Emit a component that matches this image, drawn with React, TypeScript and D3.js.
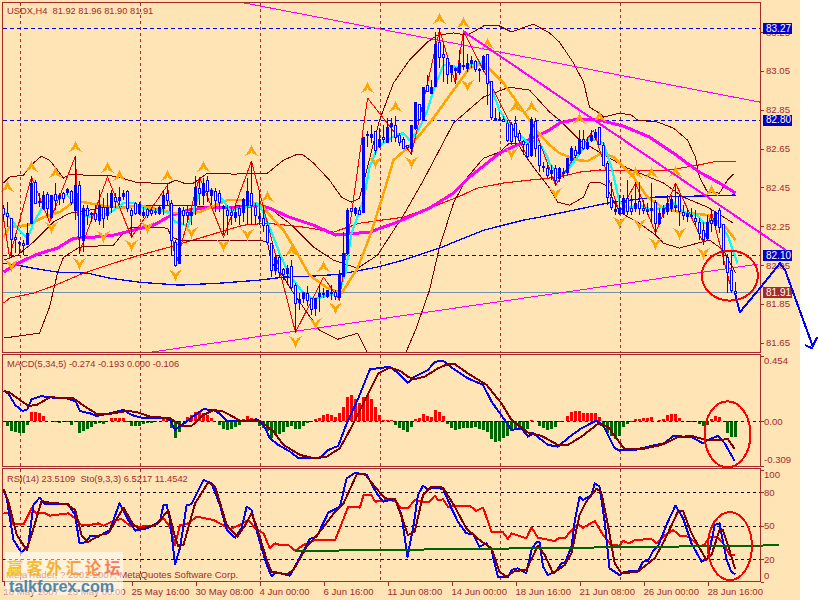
import { useEffect, useRef } from "react";
import * as d3 from "d3";

type Pt = [number, number];

// ---- candles, one value per H4 bar
const opens = [82.344,82.318,82.292,82.194,82.163,82.163,82.158,82.266,82.478,82.375,82.344,82.416,82.297,82.416,82.395,82.421,82.426,82.431,82.333,82.462,82.179,82.344,82.313,82.318,82.282,82.349,82.308,82.349,82.400,82.385,82.406,82.431,82.333,82.370,82.318,82.308,82.339,82.333,82.328,82.318,82.344,82.421,82.370,82.168,82.060,82.333,82.323,82.308,82.359,82.447,82.411,82.488,82.411,82.431,82.421,82.344,82.333,82.323,82.297,82.344,82.323,82.359,82.421,82.349,82.292,82.292,82.256,82.163,82.024,82.091,82.029,82.009,82.045,81.947,81.859,81.880,81.906,81.880,81.828,81.890,81.900,81.890,81.906,81.911,81.885,81.993,82.112,82.344,82.318,82.333,82.323,82.720,82.710,82.741,82.663,82.710,82.684,82.766,82.772,82.720,82.699,82.669,82.653,82.756,82.880,82.797,82.978,82.936,82.973,83.199,83.138,83.117,83.045,83.055,83.045,83.076,83.065,83.091,83.101,83.060,83.060,83.138,82.998,82.808,82.803,82.803,82.782,82.777,82.782,82.730,82.689,82.674,82.617,82.792,82.669,82.555,82.550,82.524,82.550,82.498,82.524,82.529,82.591,82.643,82.627,82.699,82.653,82.694,82.710,82.761,82.669,82.576,82.400,82.328,82.318,82.318,82.395,82.344,82.344,82.380,82.344,82.328,82.333,82.375,82.266,82.318,82.328,82.344,82.349,82.406,82.323,82.302,82.302,82.292,82.272,82.230,82.189,82.282,82.256,82.333,82.261,82.091,82.024,81.916];
const closes = [82.313,82.302,82.184,82.184,82.168,82.153,82.215,82.473,82.370,82.380,82.411,82.344,82.411,82.385,82.411,82.395,82.442,82.375,82.462,82.194,82.344,82.308,82.318,82.287,82.359,82.292,82.349,82.421,82.380,82.400,82.421,82.344,82.308,82.318,82.364,82.323,82.308,82.318,82.323,82.349,82.411,82.385,82.179,82.050,82.344,82.308,82.308,82.323,82.452,82.421,82.473,82.431,82.437,82.385,82.375,82.354,82.308,82.308,82.323,82.308,82.390,82.431,82.359,82.308,82.302,82.256,82.168,82.024,82.091,82.014,82.003,82.034,81.937,81.854,81.875,81.911,81.870,81.823,81.880,81.906,81.906,81.921,81.911,81.890,81.998,82.112,82.333,82.328,82.344,82.313,82.710,82.725,82.725,82.643,82.699,82.699,82.761,82.782,82.710,82.684,82.653,82.658,82.772,82.890,82.803,82.967,82.947,82.967,83.189,83.122,83.122,83.035,83.081,83.065,83.091,83.081,83.091,83.107,83.060,83.055,83.127,82.988,82.813,82.803,82.797,82.792,82.694,82.689,82.715,82.694,82.674,82.612,82.803,82.653,82.565,82.560,82.514,82.540,82.488,82.550,82.529,82.601,82.653,82.617,82.699,82.653,82.684,82.720,82.735,82.674,82.565,82.400,82.349,82.339,82.344,82.395,82.328,82.328,82.370,82.344,82.333,82.339,82.344,82.266,82.318,82.344,82.370,82.390,82.359,82.328,82.308,82.318,82.308,82.277,82.215,82.184,82.272,82.266,82.323,82.246,82.127,82.014,81.921,81.906];
const highs = [82.359,82.375,82.292,82.205,82.174,82.179,82.266,82.509,82.488,82.421,82.431,82.426,82.411,82.473,82.421,82.426,82.447,82.437,82.612,82.483,82.359,82.359,82.323,82.359,82.437,82.395,82.421,82.437,82.421,82.452,82.437,82.437,82.344,82.375,82.375,82.349,82.344,82.344,82.344,82.359,82.437,82.462,82.385,82.179,82.349,82.349,82.359,82.344,82.509,82.498,82.498,82.509,82.447,82.447,82.437,82.359,82.359,82.349,82.359,82.359,82.395,82.498,82.586,82.370,82.437,82.359,82.256,82.163,82.101,82.101,82.034,82.050,82.076,81.957,81.906,81.911,81.942,81.880,81.880,81.947,81.932,81.921,81.947,81.921,82.024,82.220,82.344,82.344,82.349,82.349,82.710,82.741,82.772,82.741,82.756,82.772,82.808,82.808,82.818,82.730,82.710,82.669,82.772,82.890,82.880,82.967,83.029,83.004,83.251,83.266,83.189,83.117,83.081,83.071,83.158,83.251,83.138,83.127,83.107,83.065,83.132,83.138,82.998,82.859,82.839,82.818,82.792,82.787,82.818,82.746,82.694,82.679,82.813,82.808,82.669,82.581,82.565,82.565,82.565,82.555,82.550,82.601,82.663,82.663,82.746,82.746,82.710,82.746,82.751,82.761,82.684,82.586,82.478,82.385,82.411,82.411,82.488,82.411,82.478,82.478,82.385,82.370,82.473,82.385,82.344,82.359,82.411,82.411,82.473,82.411,82.359,82.344,82.344,82.333,82.292,82.272,82.308,82.333,82.323,82.344,82.261,82.107,82.127,81.962];
const lows = [82.282,82.246,82.086,82.112,82.112,82.101,82.153,82.261,82.364,82.349,82.333,82.292,82.287,82.333,82.359,82.370,82.411,82.359,82.282,82.107,82.117,82.256,82.272,82.272,82.256,82.241,82.282,82.318,82.344,82.359,82.385,82.323,82.194,82.308,82.308,82.292,82.292,82.302,82.308,82.308,82.308,82.359,82.101,82.045,82.055,82.256,82.272,82.256,82.308,82.359,82.359,82.375,82.359,82.323,82.323,82.205,82.205,82.256,82.272,82.256,82.272,82.256,82.256,82.256,82.256,82.220,82.153,81.988,81.998,81.983,81.973,81.947,81.921,81.704,81.818,81.854,81.839,81.792,81.787,81.808,81.880,81.880,81.870,81.870,81.880,81.988,82.101,82.323,82.302,82.308,82.323,82.658,82.679,82.617,82.653,82.679,82.684,82.684,82.684,82.663,82.653,82.643,82.617,82.746,82.797,82.797,82.942,82.936,82.967,83.065,82.993,82.983,82.993,82.983,83.029,83.055,83.045,83.065,83.045,82.993,83.045,82.875,82.797,82.797,82.792,82.787,82.684,82.669,82.669,82.679,82.617,82.601,82.607,82.607,82.529,82.529,82.498,82.488,82.462,82.478,82.498,82.514,82.581,82.601,82.617,82.643,82.643,82.684,82.694,82.669,82.560,82.359,82.333,82.308,82.308,82.308,82.308,82.308,82.323,82.308,82.313,82.308,82.266,82.205,82.256,82.292,82.308,82.323,82.323,82.251,82.282,82.272,82.292,82.256,82.179,82.153,82.179,82.220,82.241,82.215,82.050,81.906,81.906,81.880];

// ---- moving averages and bands as [bar, price] vertices
const bandUpper: Pt[] = [[0,82.473],[1.5,82.504],[5,82.514],[7.5,82.576],[9.5,82.612],[11.5,82.591],[13.5,82.540],[15,82.498],[16.5,82.519],[20,82.514],[26,82.514],[28.5,82.504],[33,82.478],[41,82.468],[43,82.488],[45,82.473],[47.5,82.473],[51,82.524],[57.5,82.519],[66,82.524],[70,82.591],[73.5,82.622],[75,82.617],[77.5,82.576],[81.5,82.488],[84.5,82.400],[87,82.375],[89,82.395],[94,82.797],[97.5,82.988],[101.5,83.107],[106,83.199],[108.5,83.235],[112.5,83.246],[116,83.235],[120,83.282],[124,83.282],[127,83.251],[132.5,83.292],[136.5,83.246],[139,83.199],[142.5,83.091],[145,82.993],[146.5,82.864],[149,82.833],[150,82.813],[154,82.833],[157,82.823],[158.5,82.797],[163.5,82.787],[167.5,82.756],[171,82.694],[173,82.607],[174,82.503],[176,82.426],[179,82.421],[181,82.488],[182.5,82.519]];
const bandMiddle: Pt[] = [[0,82.076],[3.5,82.101],[7.5,82.169],[12.5,82.272],[16.5,82.318],[19,82.323],[24,82.344],[34,82.359],[44,82.359],[54,82.349],[61.5,82.359],[66.5,82.344],[71.5,82.266],[77.5,82.143],[82.5,82.076],[88.5,82.034],[93.5,82.101],[100,82.308],[105,82.488],[112.5,82.782],[120,82.916],[126.5,82.967],[131.5,82.952],[136.5,82.839],[139,82.797],[144,82.694],[151,82.607],[156,82.550],[165,82.473],[170,82.400],[176,82.349],[182.5,82.266]];
const bandLower: Pt[] = [[0,81.674],[9,81.700],[11.5,81.833],[13.5,82.009],[15,82.091],[19,82.143],[27.5,82.153],[29.5,82.205],[32,82.246],[41,82.241],[42,82.194],[44,82.179],[49,82.179],[64,82.179],[66,82.168],[67,82.060],[69,82.024],[71.5,81.937],[76,81.802],[79,81.715],[83.5,81.668],[88.5,81.699],[91,81.596],[95,81.483],[100.5,81.596],[103,81.715],[106.5,81.921],[109,82.143],[112.5,82.370],[116,82.504],[120,82.601],[124,82.632],[126.5,82.679],[128.5,82.679],[130,82.627],[132.5,82.555],[136.5,82.447],[138.5,82.375],[141.5,82.359],[145,82.400],[146.5,82.473],[149,82.478],[150.5,82.462],[154,82.323],[159,82.266],[163,82.205],[165,82.163],[169,82.138],[173.5,82.163],[176.5,82.179],[180,82.127],[183,82.009]];
const maOrange: Pt[] = [[0,82.194],[1.5,82.246],[6,82.256],[10,82.297],[14,82.323],[17.5,82.375],[20,82.375],[24,82.359],[29,82.344],[34,82.359],[42.5,82.318],[49,82.323],[52.5,82.354],[56,82.385],[61,82.385],[65,82.349],[66.5,82.308],[70,82.230],[73,82.127],[76.5,81.998],[81,81.932],[84.5,81.906],[88.5,82.034],[91.5,82.194],[94.5,82.385],[97.5,82.591],[101,82.653],[104,82.720],[107.5,82.808],[112.5,82.952],[116.5,83.065],[120,83.091],[125,82.988],[131,82.813],[133.5,82.736],[136.5,82.669],[139,82.627],[143.5,82.591],[146,82.586],[149.5,82.627],[152.5,82.607],[157.5,82.504],[161,82.400],[165,82.344],[169,82.323],[176,82.308],[180.5,82.246],[183,82.179]];
const maCyan: Pt[] = [[0.5,82.323],[1.5,82.297],[4,82.230],[6,82.189],[7.5,82.266],[10,82.359],[12.5,82.395],[16,82.411],[18,82.370],[19,82.318],[21.5,82.297],[26.5,82.318],[30,82.370],[32.5,82.370],[36,82.333],[39,82.333],[41.5,82.318],[43,82.272],[44.5,82.266],[46,82.246],[49,82.421],[52,82.437],[55,82.385],[56.5,82.333],[60,82.344],[63.5,82.370],[65,82.323],[66.5,82.246],[69,82.112],[71.5,81.998],[75,81.906],[77.5,81.875],[81.5,81.895],[83.5,81.895],[85.5,82.009],[87,82.215],[90,82.385],[91.5,82.555],[93.5,82.658],[96,82.694],[98,82.720],[100,82.730],[101.5,82.694],[103.5,82.736],[106,82.849],[107.5,82.952],[110,83.081],[113.5,83.071],[116.5,83.081],[120,83.096],[121.5,82.988],[124,82.849],[126,82.782],[128.5,82.730],[131,82.684],[133.5,82.694],[136,82.607],[136.5,82.576],[139,82.504],[141,82.540],[143.5,82.607],[146.5,82.705],[150,82.679],[152,82.555],[154,82.375],[156,82.344],[159,82.359],[162.5,82.333],[167.5,82.370],[170,82.323],[173.5,82.308],[175,82.266],[176.5,82.272],[179,82.266],[181,82.205],[183.5,82.060]];
const maMagenta: Pt[] = [[0,82.014],[4,82.065],[8.5,82.107],[13.5,82.138],[17.5,82.189],[22.5,82.194],[27.5,82.205],[32.5,82.230],[37.5,82.256],[41.5,82.302],[46,82.333],[52,82.349],[59,82.349],[64,82.359],[66.5,82.344],[71.5,82.297],[77.5,82.256],[83,82.205],[91.5,82.220],[98.5,82.272],[106.5,82.344],[112.5,82.421],[116.5,82.504],[124,82.627],[130,82.684],[136.5,82.746],[139,82.782],[143.5,82.803],[149,82.797],[155,82.766],[161.5,82.710],[167.5,82.627],[174,82.529],[179,82.473],[183,82.421]];
const maRed: Pt[] = [[0,81.854],[1.5,81.880],[7.5,81.906],[13,81.947],[20,82.009],[27.5,82.060],[34,82.101],[41.5,82.143],[49,82.189],[54,82.220],[60,82.256],[66,82.266],[75,82.246],[82.5,82.220],[89,82.266],[100,82.297],[106.5,82.344],[113.5,82.400],[118.5,82.447],[125,82.473],[131.5,82.488],[139,82.504],[144,82.529],[149,82.540],[159,82.535],[166.5,82.540],[173.5,82.565],[178.5,82.586],[183,82.586]];
const maBlue: Pt[] = [[0,82.060],[3.5,82.050],[7.5,82.034],[13.5,82.014],[21,82.009],[26.5,81.983],[34,81.962],[44,81.947],[54,81.957],[64,81.973],[70,81.988],[77,81.993],[84,82.003],[93.5,82.040],[100,82.076],[109,82.138],[120,82.230],[130,82.282],[134,82.297],[142.5,82.333],[151,82.370],[162.5,82.400],[183,82.411]];
const zigzag: Pt[] = [[0,82.292],[1.5,82.091],[7,82.504],[11.5,82.272],[18,82.612],[19,82.117],[26,82.504],[32,82.194],[41,82.462],[43,82.045],[49,82.504],[55,82.194],[62,82.586],[73,81.704],[80,81.988],[84,81.870],[91,82.911],[102,82.622],[109,83.261],[113,82.988],[115,83.256],[131,82.607],[132,82.797],[138,82.462],[147.5,82.746],[154,82.318],[158,82.473],[163,82.215],[168,82.473],[175,82.163],[177,82.323],[182,81.921]];

// ---- fractal markers
const fractalUp: Pt[] = [[1,82.452],[7,82.555],[13,82.524],[18,82.658],[26,82.550],[29,82.509],[41,82.509],[50,82.555],[62,82.638],[66,82.400],[72,82.122],[80,82.040],[91,82.962],[98,82.864],[109,83.318],[115,83.297],[121,83.189],[128,82.864],[132,82.864],[144,82.803],[149,82.813],[158,82.524],[162,82.524],[168,82.529],[177,82.431]];
const fractalDown: Pt[] = [[2,82.050],[12,82.246],[19,82.060],[25,82.199],[32,82.153],[36,82.246],[43,82.003],[47,82.220],[55,82.153],[61,82.210],[73,81.658],[78,81.751],[83,81.833],[93,82.581],[102,82.581],[116,82.978],[127,82.627],[138,82.421],[154,82.272],[159,82.261],[163,82.163],[169,82.215],[175,82.112]];

// ---- hand drawn objects
const trendUpper: Pt[] = [[60.1,83.401],[189.1,82.890]];
const trendLower: Pt[] = [[36.6,81.601],[188.6,82.055]];
const trendThick: Pt[] = [[114.9,83.256],[195.6,82.127]];
const forecast: Pt[] = [[182.9,81.906],[184.1,81.808],[189.1,81.931],[194.1,82.060],[195.4,82.024],[202.4,81.627]];
const forecastHead: Pt[] = [[200.4,81.638],[202.1,81.622],[203.4,81.679]];
const dashedLevels = [83.27, 82.8, 82.1];
const lastPrice = 81.91;
const priceTicks = [83.25, 83.05, 82.85, 82.65, 82.45, 82.25, 82.05, 81.85, 81.65];

// ---- MACD
const macdHist = [0,-0.032,-0.067,-0.076,-0.078,-0.078,-0.023,0.064,0.064,0.057,0.037,0,0,-0.007,-0.009,-0.002,-0.002,-0.023,-0.005,-0.078,-0.067,-0.055,-0.041,-0.021,-0.009,-0.016,0,0.023,0.023,0.023,0.023,-0.005,-0.032,-0.03,-0.032,-0.018,-0.014,-0.014,-0.007,0.005,0.023,0.023,-0.048,-0.113,-0.071,0.005,0.032,0.044,0.064,0.062,0.055,0.041,0.023,0,-0.025,-0.051,-0.06,-0.055,-0.037,-0.025,0.014,0.037,0.023,0.005,-0.032,-0.048,-0.067,-0.113,-0.094,-0.087,-0.071,-0.041,-0.032,-0.055,-0.055,-0.032,-0.009,-0.005,0.014,0.025,0.041,0.051,0.046,0.032,0.06,0.101,0.17,0.182,0.152,0.124,0.17,0.182,0.152,0.101,0.044,0.007,0.007,0.007,-0.025,-0.048,-0.06,-0.071,-0.041,0.018,0.025,0.048,0.037,0.032,0.078,0.067,0.039,-0.018,-0.048,-0.06,-0.055,-0.046,-0.046,-0.046,-0.041,-0.051,-0.062,-0.071,-0.124,-0.14,-0.138,-0.117,-0.101,-0.069,-0.06,-0.06,-0.051,-0.055,0.007,0,-0.032,-0.048,-0.06,-0.051,-0.041,-0.007,0.005,0.037,0.064,0.069,0.071,0.055,0.055,0.055,0.055,0.032,-0.041,-0.083,-0.101,-0.124,-0.101,-0.041,-0.018,-0.005,0.014,0.014,0.023,0.023,0.032,0.005,0.009,0.018,0.041,0.051,0.051,0.025,0.005,-0.005,-0.005,-0.007,-0.018,-0.032,-0.028,0.014,0.037,0.032,0.005,-0.083,-0.11,-0.11];
const macdMain: Pt[] = [[0,0.211],[1.2,0.193],[2.9,0.113],[4.8,0.071],[6,0.083],[7,0.152],[9.5,0.175],[11.2,0.166],[15.8,0.159],[18.1,0.136],[19.1,0.071],[21.6,0.055],[23.3,0.037],[26.6,0.055],[30,0.078],[32,0.044],[35,0.021],[40,0.025],[41.6,0.009],[42.9,-0.06],[44.1,-0.032],[45.8,-0.002],[47.9,0.044],[50,0.083],[52.5,0.078],[54.1,0.051],[55.8,0.005],[60.8,0.005],[63.3,0.014],[65,-0.025],[66.6,-0.117],[68.7,-0.163],[71.6,-0.209],[73.7,-0.255],[79.1,-0.255],[81.2,-0.198],[83.7,-0.17],[85.8,-0.014],[88.7,0.159],[91.6,0.359],[96.6,0.377],[98.7,0.331],[101.1,0.267],[102.8,0.308],[106.1,0.354],[107.8,0.411],[109.9,0.418],[112,0.372],[116.1,0.297],[119.9,0.251],[122,0.136],[125.3,0.009],[127,-0.06],[129.5,-0.048],[131.1,-0.106],[132.4,-0.083],[136.1,-0.163],[138.6,-0.175],[141.8,-0.101],[144.5,-0.048],[148.2,0.005],[149.9,-0.025],[152.8,-0.186],[154,-0.202],[157.8,-0.198],[162,-0.17],[165.3,-0.152],[167.4,-0.101],[172,-0.11],[174.9,-0.152],[176.1,-0.129],[178.6,-0.101],[180.3,-0.152],[182.8,-0.274]];
const macdSignal: Pt[] = [[0,0.211],[1.6,0.198],[4.1,0.147],[6.2,0.106],[8.3,0.113],[11.6,0.166],[17.5,0.159],[20.4,0.101],[23.3,0.051],[26.6,0.051],[30.8,0.071],[33.3,0.064],[36.6,0.032],[41.6,0.021],[44.5,-0.032],[47,-0.032],[50,0.044],[52.5,0.078],[55,0.067],[59.1,0.005],[64.1,0.005],[67.5,-0.071],[70,-0.163],[74.1,-0.232],[77.5,-0.255],[80.8,-0.244],[84.1,-0.186],[86.6,-0.06],[90.8,0.17],[93.7,0.331],[96.6,0.372],[99.1,0.349],[101.1,0.308],[102.8,0.292],[105.3,0.308],[108.6,0.366],[111.1,0.395],[112.8,0.395],[116.1,0.331],[120.8,0.251],[124.5,0.124],[127,0.009],[131.1,-0.078],[134.5,-0.101],[138.6,-0.163],[141.1,-0.163],[144.5,-0.106],[148.6,-0.018],[151.1,-0.037],[155.3,-0.193],[159.5,-0.193],[164.5,-0.163],[168.6,-0.11],[172,-0.101],[176.1,-0.133],[181.1,-0.124],[182.8,-0.191]];
const macdTicks = [0.454, 0, -0.309];
const macdTickLabels = ["0.454", "0.00", "-0.309"];

// ---- RSI / Stochastic
const stoMain: Pt[] = [[0,83],[0.8,74.6],[2.5,37.3],[4.5,25.9],[6.2,32.8],[7.5,68.7],[9,75.2],[10.4,69.3],[13.7,69.3],[16.2,69.3],[17.9,59.7],[19,34.3],[20.4,35.2],[21.8,41.2],[23.7,40.3],[26.6,46.3],[29,70.1],[31.2,55.2],[32.9,45.7],[35.8,47.7],[39.1,53.7],[40,68.7],[40.8,68.7],[41.6,55.2],[42.9,15.8],[44.1,29.8],[45.8,68.7],[47,69.3],[50,91.1],[52,88.1],[54.1,68.7],[55.8,46.3],[57.9,39.4],[59.5,47.7],[60.8,67.2],[62,64.2],[63.7,40.3],[65.8,14.9],[67,5],[68.3,8.3],[71.6,5.3],[73.3,16.4],[76.6,38.2],[78.3,40.3],[81.2,61.8],[84.1,67.2],[85.8,92.6],[87.9,97.6],[90.8,95.5],[93.3,79.1],[94.9,71.6],[97.9,74],[99.5,59.7],[101,22.4],[102.4,47.7],[103.6,77.6],[104.9,86],[106.1,82.1],[107.4,84.2],[109.9,83],[112,65.7],[113.6,53.7],[115.7,43.3],[117.4,42.4],[119,31.3],[120.7,34.3],[122,28.3],[123.6,4.4],[126.1,3.8],[127,10.4],[128.6,11.9],[130.7,7.4],[132,28.3],[133.2,35.2],[134,35.8],[134.9,13.4],[136.1,5.9],[138.2,9.5],[139.5,16.4],[140.3,16.4],[142,31.3],[142.8,53.7],[144,76.1],[144.9,73.1],[147,77.6],[147.8,88.1],[149,85.1],[150.3,53.7],[151.5,11.9],[154,5.9],[155.3,8.9],[158.6,9.5],[159.9,17.9],[161.1,18.5],[162.4,27.4],[163.6,31.3],[166.1,53.7],[168,68.1],[169.9,56.7],[172,34.3],[174.5,17.9],[176.1,20.9],[177.8,50.7],[179,52.2],[180.7,20.9],[181.9,8.9],[182.9,6.5]];
const stoSignal: Pt[] = [[0,83],[1.2,71.6],[3.3,41.8],[5.8,28.3],[7.5,47.7],[9.5,72.2],[11.6,70.7],[15.8,69.3],[17.9,64.2],[19.5,41.8],[21,35.2],[24.1,41.8],[26.2,43.3],[30,66.3],[32.5,50.7],[34.1,47.2],[38.3,51.3],[41.2,64.2],[42.5,44.8],[43.7,31.9],[45,32.8],[47.9,70.1],[51.2,89],[52.9,85.1],[55.8,50.7],[58.5,40.3],[60.4,50.7],[62,61.2],[63.3,49.2],[65.8,19.4],[67,8.9],[70.8,6.5],[72.5,10.4],[75.8,31.3],[79.1,44.8],[82.9,62.7],[85,70.1],[88.3,96.1],[90.4,96.1],[93.3,83],[95.4,74.6],[97.9,73.7],[100,53.7],[101.1,41.8],[102.8,44.8],[104.9,77.6],[107,85.1],[109.9,84.2],[112.8,67.2],[115.7,47.7],[119,37.3],[122,29.8],[124,8.9],[125.7,4.4],[127.8,9.5],[130.7,10.4],[133.6,32.2],[135.3,23.9],[137.4,7.4],[140.3,14.9],[142,25.3],[144,59.7],[145.7,71.6],[148.2,83],[149.4,80.6],[151.1,50.7],[152.8,16.4],[154.5,7.4],[158.6,8.9],[162.8,20.9],[165.3,37.3],[168.6,62.7],[169.9,63.3],[172,43.3],[173.6,32.8],[175.7,19.4],[177,23.9],[179,46.3],[179.8,46.3],[181.1,32.8],[182.9,11.3]];
const rsi: Pt[] = [[0,61.8],[1.2,61.2],[2.5,51.3],[5,51.3],[7,65.7],[8.3,61.2],[10.4,61.2],[11.6,59.1],[16.2,61.2],[17.9,56.7],[19.5,50.7],[21.6,50.7],[23.7,52.2],[25,50.1],[27.5,54.6],[29.5,56.1],[31.6,50.1],[34.1,49.2],[37.5,50.1],[40,56.7],[41.6,49.2],[42.9,32.8],[44.1,50.7],[45.8,51.3],[48.3,58.2],[52.5,55.2],[54.5,51.3],[56.6,47.2],[59.1,50.7],[61.2,55.2],[63.3,46.3],[65,43.3],[66.6,29.8],[67.9,34.3],[69.1,32.8],[71.2,32.8],[72.9,27.7],[75,32.8],[77.9,37.3],[82.9,37.3],[86.2,67.2],[89.1,66.3],[90,77.6],[92,77.6],[92.9,71.6],[96.2,73.1],[97.9,72.2],[99.5,65.7],[101.1,65.7],[102.8,73.1],[104.9,71.6],[106.5,71.6],[107.8,77],[108.6,73.1],[109.9,73.7],[111.1,67.2],[116.5,68.1],[118.2,63.3],[119.9,66.3],[122,44.8],[124.9,44.2],[126.1,38.2],[127,43.3],[130.7,38.8],[132,48.6],[133.6,39.4],[135.3,38.2],[137.8,36.4],[139,39.4],[140.3,38.8],[142.4,47.7],[143.6,51.3],[144.9,48.3],[147.8,54.3],[149.9,41.8],[151.9,32.8],[154,32.2],[154.9,36.4],[156.5,34.3],[157.8,37.3],[162,38.2],[163.2,34.3],[164.9,40.3],[167.4,46.3],[169.1,41.2],[171.2,40.3],[172.9,35.2],[174.1,31.3],[175.3,33.4],[176.6,40.3],[178.2,40.3],[179.9,34.3],[181.6,23.9],[182.9,23.9]];
const rsiTrend: Pt[] = [[72.9,27.4],[193.9,32.5]];
const rsiLevels = [80, 50, 20];
const rsiTicks = [100, 80, 50, 20, 0];

// ---- time axis, a label every 16 bars
const timeLabels = ["18 May 2007", "23 May 00:00", "25 May 16:00", "30 May 08:00", "4 Jun 00:00", "6 Jun 16:00", "11 Jun 08:00", "14 Jun 00:00", "18 Jun 16:00", "21 Jun 08:00", "26 Jun 00:00", "28 Jun 16:00"];
const gridBars = [4, 34, 64, 94, 124, 154];

const BROWN = "#a52a2a";
const DARK = "#800000";
const FONT = "'Liberation Sans', Arial, sans-serif";

const App = () => {
  const ref = useRef<SVGSVGElement | null>(null);

  useEffect(() => {
    if (!ref.current) return;
    const svg = d3.select(ref.current);
    svg.selectAll("*").remove();

    const left = 2.5;
    const right = 760.5;
    const x = d3.scaleLinear().domain([0, 183]).range([3.5, 735.5]);
    const yPrice = d3.scaleLinear().domain([81.6, 83.403]).range([352.5, 2.5]);
    const yMacd = d3.scaleLinear().domain([-0.309, 0.454]).range([466, 355.6]);
    const yRsi = d3.scaleLinear().domain([0, 100]).range([581.6, 470]);
    const panels = [
      { top: 2.5, bottom: 352.5 },
      { top: 354.5, bottom: 466.5 },
      { top: 468.5, bottom: 581.5 },
    ];

    svg.append("rect").attr("width", 800).attr("height", 600).attr("fill", "#ffe4b5");

    const defs = svg.append("defs");
    defs.append("clipPath").attr("id", "main-clip").append("rect")
      .attr("x", left).attr("y", 2.5).attr("width", right - left).attr("height", 350);
    const grad = defs.append("linearGradient").attr("id", "wm").attr("x1", 0).attr("x2", 1).attr("y1", 0).attr("y2", 0);
    grad.append("stop").attr("offset", "0%").attr("stop-color", "#f2c200");
    grad.append("stop").attr("offset", "55%").attr("stop-color", "#f79a20");
    grad.append("stop").attr("offset", "100%").attr("stop-color", "#ef5a50");

    const grid = svg.append("g");
    panels.forEach(p => {
      grid.selectAll(null).data(gridBars).enter().append("line")
        .attr("x1", d => Math.round(x(d))).attr("x2", d => Math.round(x(d)))
        .attr("y1", p.top).attr("y2", p.bottom)
        .attr("stroke", BROWN).attr("stroke-dasharray", "3,3");
    });

    const hline = (parent: any, y: number, color: string, dash?: string) =>
      parent.append("line").attr("x1", left).attr("x2", right)
        .attr("y1", Math.round(y) + 0.5).attr("y2", Math.round(y) + 0.5)
        .attr("stroke", color).attr("stroke-dasharray", dash ?? null);

    // ---- main chart
    const main = svg.append("g");
    dashedLevels.forEach(p => hline(main, yPrice(p), "#0000e0", "4,3"));
    hline(main, yPrice(lastPrice), "#7090b0");

    const priceLine = d3.line<Pt>().x(d => x(d[0])).y(d => yPrice(d[1]));
    const clipped = main.append("g").attr("clip-path", "url(#main-clip)");
    const draw = (parent: any, data: Pt[], color: string, width: number, gen = priceLine) =>
      parent.append("path").attr("d", gen(data)).attr("fill", "none")
        .attr("stroke", color).attr("stroke-width", width).attr("stroke-linejoin", "round");

    draw(clipped, maBlue, "#0000ff", 1.3);
    draw(clipped, maRed, "#ff0000", 1.1);
    draw(clipped, bandUpper, DARK, 1);
    draw(clipped, bandMiddle, DARK, 1);
    draw(clipped, bandLower, DARK, 1);
    draw(clipped, trendUpper, "#ff00ff", 1);
    draw(clipped, trendLower, "#ff00ff", 1);
    draw(clipped, maMagenta, "#ff00ff", 3);
    draw(clipped, maOrange, "#ffa500", 2.5);
    draw(clipped, maCyan, "#00ffff", 2.2);
    draw(clipped, zigzag, "#ff0000", 1);

    // candles: filled when the bar closed up, white when it closed down
    const bars = d3.range(opens.length);
    const candles = clipped.append("g");
    candles.selectAll("line").data(bars).enter().append("line")
      .attr("x1", i => x(i)).attr("x2", i => x(i))
      .attr("y1", i => yPrice(highs[i])).attr("y2", i => yPrice(lows[i]))
      .attr("stroke", "#0000ff");
    candles.selectAll("rect").data(bars).enter().append("rect")
      .attr("x", i => x(i) - 1)
      .attr("width", 2)
      .attr("y", i => Math.round(yPrice(Math.max(opens[i], closes[i]))) + 0.5)
      .attr("height", i => Math.max(0, Math.round(yPrice(Math.min(opens[i], closes[i]))) - Math.round(yPrice(Math.max(opens[i], closes[i])))))
      .attr("fill", i => (closes[i] > opens[i] ? "#0000ff" : "#ffffff"))
      .attr("stroke", "#0000ff");

    // fractal arrows
    const arrow = "M0,-6.5 L2.5,-1 L6.5,5 L1.5,2.5 L0,0 L-1.5,2.5 L-6.5,5 L-2.5,-1 Z";
    const arrows = main.append("g").attr("fill", "#ffa500");
    arrows.selectAll(".up").data(fractalUp).enter().append("path").attr("class", "up").attr("d", arrow)
      .attr("transform", d => `translate(${x(d[0])},${yPrice(d[1])})`);
    arrows.selectAll(".down").data(fractalDown).enter().append("path").attr("class", "down").attr("d", arrow)
      .attr("transform", d => `translate(${x(d[0])},${yPrice(d[1])}) scale(1,-1)`);

    // ---- MACD
    const macd = svg.append("g");
    macd.selectAll("rect").data(macdHist).enter().append("rect")
      .attr("x", (_, i) => x(i) - 1.5).attr("width", 3)
      .attr("y", d => yMacd(Math.max(0, d))).attr("height", d => Math.abs(yMacd(d) - yMacd(0)))
      .attr("fill", d => (d >= 0 ? "#ff0000" : "#006400"));
    hline(macd, yMacd(0), "#000000", "3,3");
    const macdLine = d3.line<Pt>().x(d => x(d[0])).y(d => yMacd(d[1]));
    draw(macd, macdMain, "#0000ff", 2, macdLine);
    draw(macd, macdSignal, DARK, 2, macdLine);

    // ---- RSI + stochastic
    const osc = svg.append("g");
    rsiLevels.forEach(v => hline(osc, yRsi(v), "#000000", "3,3"));
    const rsiLine = d3.line<Pt>().x(d => x(d[0])).y(d => yRsi(d[1]));
    draw(osc, rsi, "#ff0000", 2, rsiLine);
    draw(osc, stoMain, "#0000ff", 2, rsiLine);
    draw(osc, stoSignal, DARK, 2, rsiLine);
    draw(osc, rsiTrend, "#006400", 2, rsiLine);

    // ---- frames
    panels.forEach(p => {
      svg.append("rect").attr("x", left).attr("y", p.top).attr("width", right - left).attr("height", p.bottom - p.top)
        .attr("fill", "none").attr("stroke", BROWN);
    });

    // ---- axis text
    const label = (px: number, py: number, s: string, color = BROWN, size = 9.6) =>
      svg.append("text").attr("x", px).attr("y", py).attr("dy", "0.35em").attr("fill", color)
        .attr("font-family", FONT).attr("font-size", size).style("white-space", "pre").text(s);
    const tick = (py: number) =>
      svg.append("line").attr("x1", right).attr("x2", right + 3).attr("y1", Math.round(py) + 0.5).attr("y2", Math.round(py) + 0.5).attr("stroke", BROWN);

    priceTicks.forEach(p => {
      tick(yPrice(p));
      label(766, yPrice(p), p.toFixed(2));
    });
    macdTicks.forEach((v, i) => {
      tick(yMacd(v));
      label(764, Math.min(460, Math.max(361, yMacd(v))), macdTickLabels[i]);
    });
    rsiTicks.forEach(v => {
      tick(yRsi(v));
      label(764, Math.min(576, Math.max(475, yRsi(v))), String(v));
    });

    // price tags
    const tag = (p: number, fill: string) => {
      const cy = yPrice(p);
      svg.append("rect").attr("x", 763).attr("y", Math.round(cy) - 5.5).attr("width", 29).attr("height", 11).attr("fill", fill);
      label(766, cy, p.toFixed(2), "#ffffff", 10);
    };
    dashedLevels.forEach(p => tag(p, "#0000cd"));
    tag(lastPrice, BROWN);

    timeLabels.forEach((s, i) => {
      const tx = x(i * 16);
      svg.append("line").attr("x1", Math.round(tx)).attr("x2", Math.round(tx)).attr("y1", 582).attr("y2", 586).attr("stroke", BROWN);
      label(tx, 591.5, s);
    });

    label(7, 10.5, "USDX,H4  81.92 81.96 81.90 81.91", BROWN, 9.3);
    label(7, 364, "MACD(5,34,5) -0.274 -0.193 0.000 -0.106", BROWN, 9.3);
    label(7, 478.5, "RSI(14) 23.5109  Sto(9,3,3) 6.5217 11.4542", BROWN, 9.3);
    label(6, 575, "MetaTrader, ? 2001-2007, MetaQuotes Software Corp.");

    // ---- annotations on top of everything
    draw(svg, trendThick, "#ff00ff", 2);
    draw(svg, forecast, "#0000ff", 2);
    draw(svg, forecastHead, "#0000ff", 2);
    const ring = (bar: number, cy: number, rx: number, ry: number) =>
      svg.append("ellipse").attr("cx", x(bar)).attr("cy", cy).attr("rx", rx).attr("ry", ry)
        .attr("fill", "none").attr("stroke", "#ff0000").attr("stroke-width", 2);
    ring(181.6, yPrice(81.996), 28, 25);
    ring(181, yMacd(-0.09), 23, 33);
    ring(181.6, yRsi(31.8), 22, 34);

    // ---- watermark
    svg.append("rect").attr("x", 5).attr("y", 552).attr("width", 118).attr("height", 43).attr("fill", "#ffffff").attr("opacity", 0.55);
    svg.append("text").attr("x", 7).attr("y", 574).attr("fill", "url(#wm)").attr("opacity", 0.85)
      .attr("font-family", "'Noto Sans CJK SC', sans-serif").attr("font-weight", 700)
      .attr("font-size", 16).attr("letter-spacing", 3.5).text("赢客外汇论坛");
    svg.append("text").attr("x", 9).attr("y", 592).attr("fill", "#3d7ca8").attr("opacity", 0.9)
      .attr("font-family", FONT).attr("font-weight", 700).attr("font-size", 16.2).text("talkforex.com");
  }, []);

  return (
    <svg
      ref={ref}
      width={818}
      height={600}
      shapeRendering="crispEdges"
      style={{ position: "absolute", left: 0, top: 0, display: "block", background: "#fff" }}
    />
  );
};

export default App;
